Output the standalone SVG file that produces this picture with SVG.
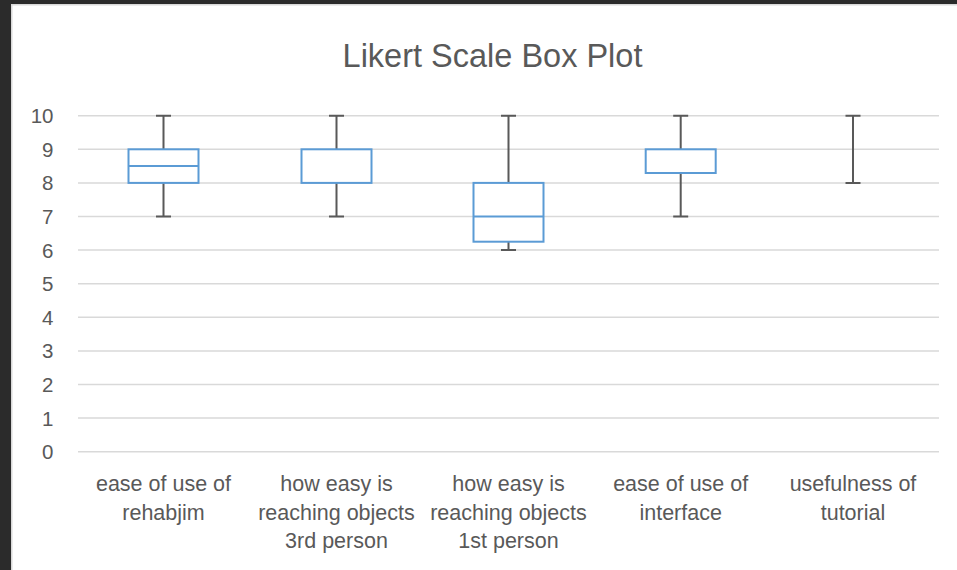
<svg xmlns="http://www.w3.org/2000/svg" width="957" height="570" viewBox="0 0 957 570">
  <style>
    .grid { stroke: #d9d9d9; stroke-width: 1.5; fill: none; }
    .whisker { stroke: #595959; stroke-width: 2; fill: none; }
    .box { stroke: #5b9bd5; stroke-width: 2; fill: #ffffff; }
    .median { stroke: #5b9bd5; stroke-width: 2; fill: none; }
    text { font-family: "Liberation Sans", Arial, sans-serif; fill: #595959; }
    .title { font-size: 32.5px; text-anchor: middle; }
    .tick { font-size: 20.5px; text-anchor: end; }
    .cat { font-size: 21.5px; text-anchor: middle; }
  </style>

  <!-- window frame and chart area -->
  <rect x="0" y="0" width="957" height="570" fill="#2b2b2b"/>
  <rect x="11.75" y="4.75" width="950" height="570" fill="#ffffff" stroke="#d9d9d9" stroke-width="1.5"/>

  <text class="title" x="492.5" y="66.5">Likert Scale Box Plot</text>

  <!-- value axis: y = 451.7 - 33.6 * v -->
  <g id="gridlines">
    <line class="grid" x1="78" y1="115.7" x2="939" y2="115.7"/>
    <line class="grid" x1="78" y1="149.3" x2="939" y2="149.3"/>
    <line class="grid" x1="78" y1="182.9" x2="939" y2="182.9"/>
    <line class="grid" x1="78" y1="216.5" x2="939" y2="216.5"/>
    <line class="grid" x1="78" y1="250.1" x2="939" y2="250.1"/>
    <line class="grid" x1="78" y1="283.7" x2="939" y2="283.7"/>
    <line class="grid" x1="78" y1="317.3" x2="939" y2="317.3"/>
    <line class="grid" x1="78" y1="350.9" x2="939" y2="350.9"/>
    <line class="grid" x1="78" y1="384.5" x2="939" y2="384.5"/>
    <line class="grid" x1="78" y1="418.1" x2="939" y2="418.1"/>
    <line class="grid" x1="78" y1="451.7" x2="939" y2="451.7"/>
  </g>
  <g id="value-axis">
    <text class="tick" x="53.5" y="123.2">10</text>
    <text class="tick" x="53.5" y="156.8">9</text>
    <text class="tick" x="53.5" y="190.4">8</text>
    <text class="tick" x="53.5" y="224">7</text>
    <text class="tick" x="53.5" y="257.6">6</text>
    <text class="tick" x="53.5" y="291.2">5</text>
    <text class="tick" x="53.5" y="324.8">4</text>
    <text class="tick" x="53.5" y="358.4">3</text>
    <text class="tick" x="53.5" y="392">2</text>
    <text class="tick" x="53.5" y="425.6">1</text>
    <text class="tick" x="53.5" y="459.2">0</text>
  </g>

  <!-- series: whiskers min..max with caps, box Q1..Q3, median -->
  <g id="connectors">
    <path class="whisker" d="M163.5 115.7V149.3M163.5 182.9V216.5M156 115.7H171M156 216.5H171"/>
    <path class="whisker" d="M336.5 115.7V149.3M336.5 182.9V216.5M329 115.7H344M329 216.5H344"/>
    <path class="whisker" d="M508.5 115.7V182.9M508.5 241.7V250.1M501 115.7H516M501 250.1H516"/>
    <path class="whisker" d="M680.7 115.7V149.3M680.7 173V216.5M673.2 115.7H688.2M673.2 216.5H688.2"/>
    <path class="whisker" d="M853 115.7V182.9M845.5 115.7H860.5M845.5 182.9H860.5"/>
  </g>

  <g id="box-rehabjim">
    <rect class="box" x="128.5" y="149.3" width="70" height="33.6"/>
    <line class="median" x1="128.5" y1="166.1" x2="198.5" y2="166.1"/>
  </g>
  <g id="box-reaching-3rd">
    <rect class="box" x="301.5" y="149.3" width="70" height="33.6"/>
  </g>
  <g id="box-reaching-1st">
    <rect class="box" x="473.5" y="182.9" width="70" height="58.8"/>
    <line class="median" x1="473.5" y1="216.5" x2="543.5" y2="216.5"/>
  </g>
  <g id="box-interface">
    <rect class="box" x="645.7" y="149.3" width="70" height="23.7"/>
  </g>
  <g id="box-tutorial"></g>

  <!-- category axis labels -->
  <g id="category-axis">
    <text class="cat" x="163.5" y="491"><tspan x="163.5">ease of use of</tspan><tspan x="163.5" dy="28.5">rehabjim</tspan></text>
    <text class="cat" x="336.5" y="491"><tspan x="336.5">how easy is</tspan><tspan x="336.5" dy="28.5">reaching objects</tspan><tspan x="336.5" dy="28.5">3rd person</tspan></text>
    <text class="cat" x="508.5" y="491"><tspan x="508.5">how easy is</tspan><tspan x="508.5" dy="28.5">reaching objects</tspan><tspan x="508.5" dy="28.5">1st person</tspan></text>
    <text class="cat" x="680.7" y="491"><tspan x="680.7">ease of use of</tspan><tspan x="680.7" dy="28.5">interface</tspan></text>
    <text class="cat" x="853" y="491"><tspan x="853">usefulness of</tspan><tspan x="853" dy="28.5">tutorial</tspan></text>
  </g>
</svg>
